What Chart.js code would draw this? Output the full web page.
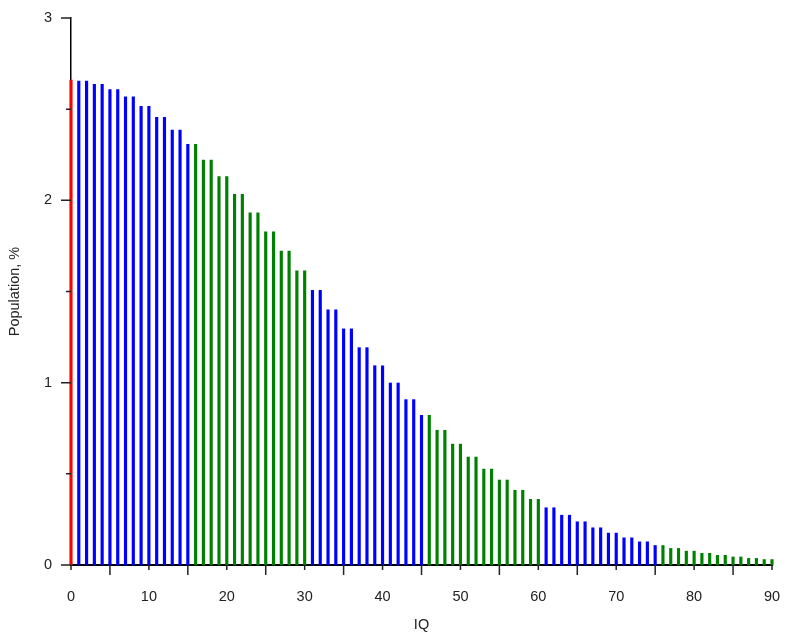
<!DOCTYPE html>
<html>
<head>
<meta charset="utf-8">
<script src="https://cdn.jsdelivr.net/npm/chart.js@4.4.1/dist/chart.umd.min.js"></script>
<style>
  body { margin: 0; background: #fff; }
  canvas { display: block; }
</style>
</head>
<body>
<canvas id="myChart" width="800" height="640"></canvas>
<script>
// IQ offset on the x axis, 0..90
const iq = [0, 1, 2, 3, 4, 5, 6, 7, 8, 9, 10, 11, 12, 13, 14, 15, 16, 17, 18, 19,
  20, 21, 22, 23, 24, 25, 26, 27, 28, 29, 30, 31, 32, 33, 34, 35, 36, 37, 38, 39,
  40, 41, 42, 43, 44, 45, 46, 47, 48, 49, 50, 51, 52, 53, 54, 55, 56, 57, 58, 59,
  60, 61, 62, 63, 64, 65, 66, 67, 68, 69, 70, 71, 72, 73, 74, 75, 76, 77, 78, 79,
  80, 81, 82, 83, 84, 85, 86, 87, 88, 89, 90]

// population share in %
const population = [2.660,
  2.654, 2.654, 2.636, 2.636, 2.607, 2.607, 2.567, 2.567, 2.516, 2.516,
  2.455, 2.455, 2.385, 2.385, 2.307, 2.307, 2.221, 2.221, 2.130, 2.130,
  2.033, 2.033, 1.931, 1.931, 1.827, 1.827, 1.721, 1.721, 1.613, 1.613,
  1.506, 1.506, 1.399, 1.399, 1.295, 1.295, 1.192, 1.192, 1.093, 1.093,
  0.998, 0.998, 0.907, 0.907, 0.821, 0.821, 0.739, 0.739, 0.663, 0.663,
  0.592, 0.592, 0.526, 0.526, 0.466, 0.466, 0.410, 0.410, 0.360, 0.360,
  0.314, 0.314, 0.273, 0.273, 0.237, 0.237, 0.204, 0.204, 0.175, 0.175,
  0.149, 0.149, 0.127, 0.127, 0.107, 0.107, 0.091, 0.091, 0.076, 0.076,
  0.064, 0.064, 0.053, 0.053, 0.044, 0.044, 0.036, 0.036, 0.030, 0.030]

const xTickLabels = [0, 10, 20, 30, 40, 50, 60, 70, 80, 90]
const yTickLabels = [0, 1, 2, 3]

function barColor(x) {
    if (x === 0) return '#ff0000'
    // bands of 15 alternate blue / green
    return Math.floor((x - 1) / 15) % 2 === 0 ? '#0000ff' : '#008000'
}

// tick marks: long/short alternate like the original
const tickMarks = {
    id: 'tickMarks',
    afterDraw(chart) {
        const ctx = chart.ctx
        const xs = chart.scales.x
        const ys = chart.scales.y
        const area = chart.chartArea
        ctx.save()
        ctx.strokeStyle = '#222'
        ctx.lineWidth = 1.5
        ctx.beginPath()
        for (let v = 0; v <= 90; v += 5) {
            const px = xs.getPixelForValue(v)
            const len = v % 10 === 5 ? 10 : 5
            ctx.moveTo(px, area.bottom)
            ctx.lineTo(px, area.bottom + len)
        }
        for (let v = 0; v <= 3; v += 0.5) {
            const py = ys.getPixelForValue(v)
            const len = Number.isInteger(v) ? 10 : 5
            ctx.moveTo(area.left, py)
            ctx.lineTo(area.left - len, py)
        }
        ctx.stroke()
        ctx.restore()
    }
}

Chart.defaults.font.family = "'Liberation Sans', Arial, sans-serif"
Chart.defaults.font.size = 14.5
Chart.defaults.color = '#222'

var ctx = document.getElementById('myChart').getContext('2d')
var chart = new Chart(ctx, {
    type: 'bar',
    data: {
        datasets: [{
            data: iq.map((x, i) => ({ x: x, y: population[i] })),
            backgroundColor: iq.map(barColor),
            barThickness: 2.5,
            borderWidth: 0,
            clip: false
        }]
    },
    options: {
        responsive: false,
        animation: false,
        devicePixelRatio: 1,
        layout: { padding: { top: 18, right: 28, left: 0, bottom: 0 } },
        plugins: {
            legend: { display: false },
            tooltip: { enabled: false }
        },
        scales: {
            x: {
                type: 'linear',
                min: 0,
                max: 90,
                offset: false,
                grid: { display: false, drawTicks: false },
                border: { display: true, color: '#000', width: 2 },
                afterBuildTicks: s => { s.ticks = xTickLabels.map(v => ({ value: v })) },
                ticks: { padding: 23, maxRotation: 0, autoSkip: false },
                title: { display: true, text: 'IQ', padding: { top: 0, bottom: 6 } },
                afterFit: s => { s.height = 75; s.paddingLeft = 0; s.paddingRight = 0 }
            },
            y: {
                min: 0,
                max: 3,
                grid: { display: false, drawTicks: false },
                border: { display: true, color: '#000', width: 1.5 },
                afterBuildTicks: s => { s.ticks = yTickLabels.map(v => ({ value: v })) },
                ticks: { padding: 19 },
                title: { display: true, text: 'Population, %', padding: { top: 6, bottom: 0 } },
                afterFit: s => { s.width = 71; s.paddingTop = 0; s.paddingBottom = 0 }
            }
        }
    },
    plugins: [tickMarks]
})
</script>
</body>
</html>
